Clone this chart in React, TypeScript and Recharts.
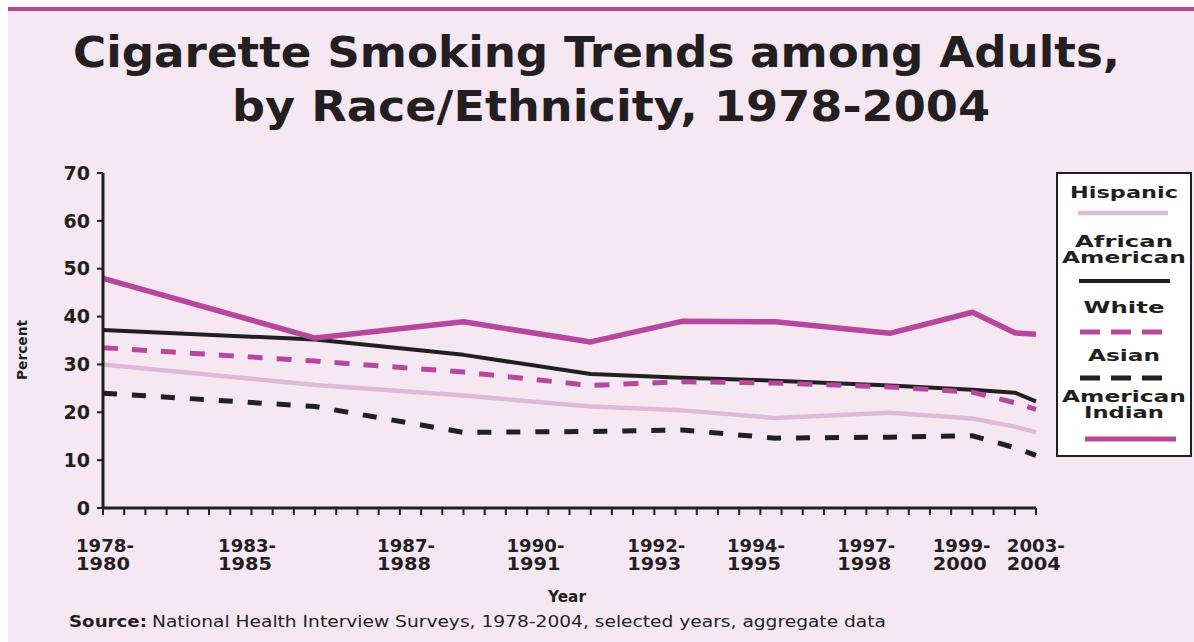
import { LineChart, Line, XAxis, YAxis } from 'recharts'

const INK = '#231f20'
const MAGENTA = '#b6479d'
const PINK = '#e0b8d8'
const BG = '#f5e8f3'
const FONT = "'DejaVu Sans', 'Open Sans', sans-serif"

// x positions are measured on the axis' 45 minor ticks (0 = 1978-80, 44 = 2003-04)
const periodPos = [0, 10, 17, 23, 27.3, 31.7, 37.1, 41, 43, 44]
const hispanic = [30.0, 25.7, 23.5, 21.2, 20.4, 18.8, 19.9, 18.7, 17.0, 15.8]
const africanAmerican = [37.2, 35.2, 32.0, 28.0, 27.2, 26.6, 25.6, 24.7, 24.1, 22.3]
const white = [33.5, 30.7, 28.4, 25.6, 26.4, 26.1, 25.3, 24.2, 22.0, 20.6]
const asian = [24.0, 21.2, 15.8, 16.0, 16.3, 14.6, 14.8, 15.1, 12.6, 11.0]
const americanIndian = [48.0, 35.5, 38.9, 34.7, 39.0, 38.9, 36.5, 40.9, 36.6, 36.3]

const minorTicks = Array.from({ length: 45 }, (_, i) => i)
const labelPos = [0, 6.7, 14.2, 20.3, 26.0, 30.7, 35.9, 40.4, 43.9]
const labelTop = ['1978-', '1983-', '1987-', '1990-', '1992-', '1994-', '1997-', '1999-', '2003-']
const labelBottom = ['1980', '1985', '1988', '1991', '1993', '1995', '1998', '2000', '2004']
const yTicks = [0, 10, 20, 30, 40, 50, 60, 70]

const data = periodPos.map((pos, i) => ({
  pos,
  hispanic: hispanic[i],
  africanAmerican: africanAmerican[i],
  white: white[i],
  asian: asian[i],
  americanIndian: americanIndian[i],
}))

const legendItems = [
  { lines: ['Hispanic'], lens: [108], textY: 198, lineY: 213, x1: 1078, x2: 1168, color: PINK, w: 4.5, dash: undefined },
  { lines: ['African', 'American'], lens: [98, 124], textY: 247, lineY: 281, x1: 1079, x2: 1170, color: INK, w: 4, dash: undefined },
  { lines: ['White'], lens: [81], textY: 313, lineY: 332, x1: 1080, x2: 1172, color: MAGENTA, w: 5, dash: '20 11' },
  { lines: ['Asian'], lens: [72], textY: 361, lineY: 378, x1: 1080, x2: 1172, color: INK, w: 5, dash: '20 11' },
  { lines: ['American', 'Indian'], lens: [124, 80], textY: 402, lineY: 439, x1: 1085, x2: 1176, color: MAGENTA, w: 5, dash: undefined },
]

function PeriodTick(props: any) {
  const { x, y, payload } = props
  const i = labelPos.indexOf(payload.value)
  if (i < 0) return null
  const style = { fontFamily: FONT, fontWeight: 700, fontSize: 17, fill: INK }
  return (
    <g>
      <text x={x - 27} y={y + 34} textLength={labelTop[i].length * 11.6} lengthAdjust="spacingAndGlyphs" style={style}>
        {labelTop[i]}
      </text>
      <text x={x - 27} y={y + 52} textLength={54} lengthAdjust="spacingAndGlyphs" style={style}>
        {labelBottom[i]}
      </text>
    </g>
  )
}

function Overlay() {
  const bold = { fontFamily: FONT, fontWeight: 700, fill: INK }
  return (
    <svg width={1194} height={642} style={{ position: 'absolute', left: 0, top: 0 }}>
      <text x={73} y={67} fontSize={42} textLength={1047} lengthAdjust="spacingAndGlyphs" style={bold}>
        Cigarette Smoking Trends among Adults,
      </text>
      <text x={232} y={121} fontSize={42} textLength={758} lengthAdjust="spacingAndGlyphs" style={bold}>
        by Race/Ethnicity, 1978-2004
      </text>
      <text
        x={0}
        y={0}
        fontSize={14}
        textLength={60}
        lengthAdjust="spacingAndGlyphs"
        textAnchor="middle"
        transform="translate(27 350) rotate(-90)"
        style={bold}
      >
        Percent
      </text>
      <text x={548} y={602} fontSize={15} textLength={38} lengthAdjust="spacingAndGlyphs" style={bold}>Year</text>
      <text x={69} y={627} fontSize={16} textLength={78} lengthAdjust="spacingAndGlyphs" style={bold}>Source:</text>
      <text
        x={152}
        y={627}
        fontSize={16}
        textLength={734}
        lengthAdjust="spacingAndGlyphs"
        style={{ fontFamily: FONT, fill: INK }}
      >
        National Health Interview Surveys, 1978-2004, selected years, aggregate data
      </text>

      <rect x={1057} y={173} width={134} height={283} fill="#ffffff" stroke={INK} strokeWidth={2} />
      {legendItems.map(item => (
        <g key={item.lines.join(' ')}>
          {item.lines.map((t, j) => (
            <text
              key={t}
              x={1124}
              y={item.textY + j * 16}
              fontSize={15}
              textAnchor="middle"
              textLength={item.lens[j]}
              lengthAdjust="spacingAndGlyphs"
              style={bold}
            >
              {t}
            </text>
          ))}
          <line
            x1={item.x1}
            x2={item.x2}
            y1={item.lineY}
            y2={item.lineY}
            stroke={item.color}
            strokeWidth={item.w}
            strokeDasharray={item.dash}
          />
        </g>
      ))}
    </svg>
  )
}

export default function App() {
  return (
    <div style={{ position: 'fixed', left: 0, top: 0, width: 1194, height: 642, background: '#ffffff', overflow: 'hidden' }}>
      <div
        style={{
          position: 'absolute',
          left: 8,
          top: 7,
          width: 1186,
          height: 635,
          background: BG,
          borderTop: `4px solid ${MAGENTA}`,
          boxSizing: 'border-box',
        }}
      />
      <Overlay />
      <div style={{ position: 'absolute', left: 0, top: 0 }}>
        <LineChart width={1194} height={642} data={data} margin={{ top: 173, right: 158, left: 43, bottom: 64 }}>
          <XAxis
            xAxisId={0}
            dataKey="pos"
            type="number"
            domain={[0, 44]}
            ticks={minorTicks}
            interval={0}
            tickFormatter={() => ''}
            tickSize={7}
            height={10}
            axisLine={{ stroke: INK, strokeWidth: 3 }}
            tickLine={{ stroke: INK, strokeWidth: 2 }}
          />
          <XAxis
            xAxisId={1}
            dataKey="pos"
            type="number"
            domain={[0, 44]}
            ticks={labelPos}
            interval={0}
            axisLine={false}
            tickLine={false}
            tickSize={0}
            tickMargin={0}
            height={60}
            tick={<PeriodTick />}
          />
          <YAxis
            type="number"
            domain={[0, 70]}
            ticks={yTicks}
            interval={0}
            width={60}
            tickSize={6}
            tickMargin={7}
            axisLine={{ stroke: INK, strokeWidth: 3 }}
            tickLine={{ stroke: INK, strokeWidth: 2 }}
            tick={{ fontFamily: FONT, fontWeight: 700, fontSize: 19, fill: INK }}
          />
          <Line xAxisId={0} type="linear" dataKey="hispanic" stroke={PINK} strokeWidth={4.5} dot={false} activeDot={false} isAnimationActive={false} strokeLinejoin="round" />
          <Line xAxisId={0} type="linear" dataKey="asian" stroke={INK} strokeWidth={5} strokeDasharray="14 15" dot={false} activeDot={false} isAnimationActive={false} />
          <Line xAxisId={0} type="linear" dataKey="africanAmerican" stroke={INK} strokeWidth={4} dot={false} activeDot={false} isAnimationActive={false} strokeLinejoin="round" />
          <Line xAxisId={0} type="linear" dataKey="white" stroke={MAGENTA} strokeWidth={5} strokeDasharray="15 14" dot={false} activeDot={false} isAnimationActive={false} />
          <Line xAxisId={0} type="linear" dataKey="americanIndian" stroke={MAGENTA} strokeWidth={5.5} dot={false} activeDot={false} isAnimationActive={false} strokeLinejoin="round" />
        </LineChart>
      </div>
    </div>
  )
}
